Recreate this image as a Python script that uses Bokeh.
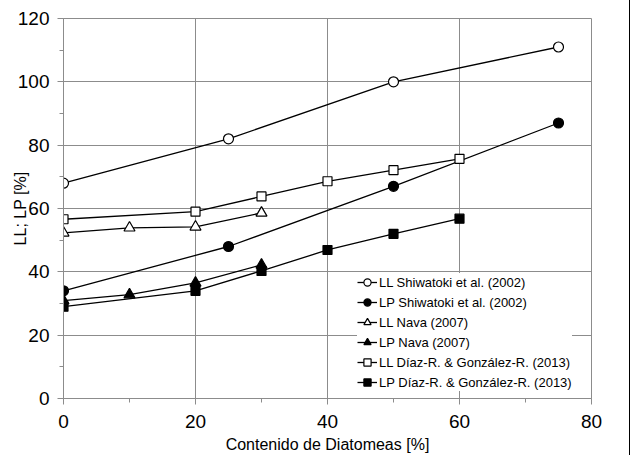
from bokeh.plotting import figure
from bokeh.models import SingleIntervalTicker, Range1d, Legend, LegendItem
from bokeh.embed import file_html
from bokeh.resources import INLINE

# Data
ll_shi_x = [0, 25, 50, 75]
ll_shi_y = [68, 82, 100, 111]
lp_shi_x = [0, 25, 50, 75]
lp_shi_y = [34, 48, 67, 87]
ll_nava_x = [0, 10, 20, 30]
ll_nava_y = [52.3, 53.9, 54.2, 58.6]
lp_nava_x = [0, 10, 20, 30]
lp_nava_y = [30.9, 32.8, 36.5, 42.2]
ll_diaz_x = [0, 20, 30, 40, 50, 60]
ll_diaz_y = [56.6, 59, 63.8, 68.6, 72.1, 75.7]
lp_diaz_x = [0, 20, 30, 40, 50, 60]
lp_diaz_y = [29, 34, 40.3, 46.9, 52, 56.8]

labels = [
    "LL Shiwatoki et al. (2002)",
    "LP Shiwatoki et al. (2002)",
    "LL Nava (2007)",
    "LP Nava (2007)",
    "LL Díaz-R. & González-R. (2013)",
    "LP Díaz-R. & González-R. (2013)",
]

FONT = "Liberation Sans"

p = figure(width=630, height=455, output_backend="svg", toolbar_location=None,
           x_range=Range1d(0, 80), y_range=Range1d(0, 120),
           min_border_left=63, min_border_right=39, min_border_top=18, min_border_bottom=56)

p.outline_line_color = "#8c8c8c"
p.outline_line_width = 1
p.background_fill_color = "white"
p.border_fill_color = "white"

p.xaxis.ticker = SingleIntervalTicker(interval=20, num_minor_ticks=2)
p.yaxis.ticker = SingleIntervalTicker(interval=20, num_minor_ticks=2)
for ax in (p.xaxis, p.yaxis):
    ax.axis_line_color = "#8c8c8c"
    ax.major_tick_line_color = "#8c8c8c"
    ax.minor_tick_line_color = "#8c8c8c"
    ax.major_tick_out = 6
    ax.major_tick_in = 0
    ax.minor_tick_out = 4
    ax.minor_tick_in = 0
    ax.major_label_text_font = FONT
    ax.major_label_text_font_size = "19px"
    ax.major_label_text_color = "#000000"
    ax.axis_label_text_font = FONT
    ax.axis_label_text_font_size = "16px"
    ax.axis_label_text_font_style = "normal"
    ax.axis_label_text_color = "#000000"
p.xaxis.major_label_standoff = 10
p.yaxis.major_label_standoff = 8
p.xaxis.axis_label = "Contenido de Diatomeas [%]"
p.yaxis.axis_label = "LL; LP [%]"
p.xaxis.axis_label_standoff = 5
p.yaxis.axis_label_standoff = -14

p.xgrid.ticker = p.xaxis.ticker
p.ygrid.ticker = p.yaxis.ticker
p.grid.grid_line_color = "#8c8c8c"
p.grid.grid_line_width = 1

series = [
    (ll_shi_x, ll_shi_y, "circle", "white", 10),
    (lp_shi_x, lp_shi_y, "circle", "black", 10),
    (ll_nava_x, ll_nava_y, "triangle", "white", 11),
    (lp_nava_x, lp_nava_y, "triangle", "black", 11),
    (ll_diaz_x, ll_diaz_y, "square", "white", 9),
    (lp_diaz_x, lp_diaz_y, "square", "black", 9),
]

items = []
for (xs, ys, marker, fill, size), lab in zip(series, labels):
    r1 = p.line(xs, ys, line_color="black", line_width=1.3)
    r2 = p.scatter(xs, ys, marker=marker, size=size, fill_color=fill,
                   line_color="black", line_width=1.2)
    items.append(LegendItem(label=lab, renderers=[r1, r2]))

legend = Legend(items=items, location=(294, 7))
legend.label_text_font = FONT
legend.label_text_font_size = "13px"
legend.label_text_color = "#000000"
legend.border_line_color = None
legend.background_fill_color = "white"
legend.background_fill_alpha = 1
legend.glyph_width = 20
legend.glyph_height = 18
legend.label_height = 18
legend.label_standoff = 2
legend.spacing = 2
legend.padding = 5
legend.margin = 0
p.add_layout(legend, "center")

p.styles = {"border-right": "1px solid #000000"}

open("out.html", "w").write(file_html(p, INLINE))
